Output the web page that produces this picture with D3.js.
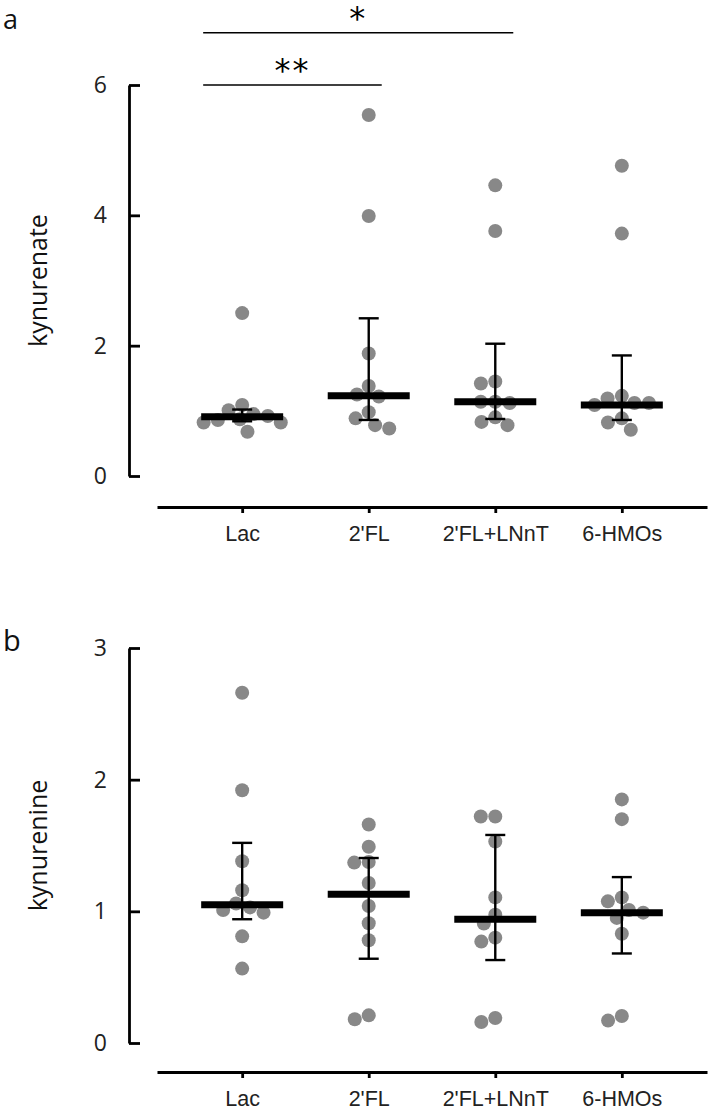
<!DOCTYPE html>
<html>
<head>
<meta charset="utf-8">
<script src="https://cdn.jsdelivr.net/npm/d3@7"></script>
<style>
html,body{margin:0;padding:0;background:#fff;}
svg{display:block;}
</style>
</head>
<body>
<svg id="chart" width="710" height="1115"></svg>
<script>
const categories = ["Lac", "2'FL", "2'FL+LNnT", "6-HMOs"];

// Panel a: kynurenate
const kynurenate = [
  [2.50, 1.09, 1.01, 0.95, 0.92, 0.87, 0.86, 0.82, 0.82, 0.68],
  [5.54, 3.99, 1.88, 1.38, 1.25, 1.22, 0.98, 0.885, 0.78, 0.73],
  [4.46, 3.76, 1.45, 1.42, 1.14, 1.14, 1.12, 0.90, 0.83, 0.78],
  [4.76, 3.72, 1.23, 1.19, 1.12, 1.12, 1.09, 0.885, 0.82, 0.71]
];
const kynurenateMedian = [0.91, 1.23, 1.14, 1.09];
const kynurenateLow = [0.84, 0.86, 0.875, 0.86];
const kynurenateHigh = [1.02, 2.42, 2.03, 1.85];
const kynurenateTicks = [0, 2, 4, 6];

// Panel b: kynurenine
const kynurenine = [
  [2.66, 1.92, 1.38, 1.16, 1.06, 1.03, 1.01, 0.99, 0.81, 0.565],
  [1.66, 1.49, 1.375, 1.37, 1.215, 1.04, 0.91, 0.78, 0.21, 0.18],
  [1.72, 1.72, 1.53, 1.106, 0.975, 0.907, 0.80, 0.77, 0.19, 0.16],
  [1.85, 1.70, 1.106, 1.076, 1.01, 0.99, 0.95, 0.83, 0.205, 0.17]
];
const kynurenineMedian = [1.05, 1.13, 0.94, 0.99];
const kynurenineLow = [0.94, 0.64, 0.63, 0.68];
const kynurenineHigh = [1.52, 1.405, 1.58, 1.26];
const kynurenineTicks = [0, 1, 2, 3];

const svg = d3.select("#chart");
const DOT_R = 7, MIN_D = 14.5;

function swarm(vals, cx, y) {
  const placed = [];
  const order = vals.map((v, i) => ({v, i})).sort((a, b) => b.v - a.v);
  order.forEach(p => {
    const py = y(p.v);
    const forb = [];
    placed.forEach(q => {
      const dy = Math.abs(q.y - py);
      if (dy < MIN_D) {
        const dx = Math.sqrt(MIN_D * MIN_D - dy * dy);
        forb.push([q.x - dx, q.x + dx]);
      }
    });
    const cands = [cx];
    forb.forEach(f => { cands.push(f[0] - 0.01, f[1] + 0.01); });
    cands.sort((a, b) => Math.abs(a - cx) - Math.abs(b - cx));
    let px = cx;
    for (const c of cands) {
      if (!forb.some(f => c > f[0] && c < f[1])) { px = c; break; }
    }
    placed.push({x: px, y: py, v: p.v});
  });
  return placed;
}

function panel(opt) {
  const g = svg.append("g");
  const x = d3.scalePoint().domain(categories).range([157, 707]).padding(0.673);
  const y = d3.scaleLinear().domain(opt.domain).range(opt.yRange);

  // y axis
  const axisX = 129;
  const minor = d3.range(opt.domain[0], opt.domain[1] + 1e-9, opt.minorStep)
    .filter(v => !opt.ticks.some(t => Math.abs(t - v) < 1e-6));
  const ya = g.append("g").attr("transform", `translate(${axisX},0)`);
  ya.call(d3.axisLeft(y).tickValues(minor).tickSize(-5).tickSizeOuter(0).tickFormat(""));
  ya.call(d3.axisLeft(y).tickValues(opt.ticks).tickSize(-11).tickSizeOuter(0).tickPadding(22).tickFormat(d3.format("d")));
  ya.selectAll("path.domain").attr("stroke", "#000").attr("stroke-width", 2.8);
  ya.selectAll(".tick line").attr("stroke", "#000").attr("stroke-width", 2.8);
  ya.selectAll(".tick text").attr("font-family", "'Open Sans', sans-serif").attr("font-size", 23).attr("fill", "#222");

  // x axis
  const xa = g.append("g").attr("transform", `translate(0,${opt.xAxisY})`);
  xa.call(d3.axisBottom(x).tickSize(6).tickSizeOuter(0).tickPadding(13));
  xa.selectAll("path.domain").attr("stroke", "#000").attr("stroke-width", 2.8);
  xa.selectAll(".tick line").attr("stroke", "#000").attr("stroke-width", 2.8);
  xa.selectAll(".tick text").attr("font-family", "'Liberation Sans', Arial, sans-serif").attr("font-size", 21.5).attr("fill", "#222");

  // axis title
  g.append("text")
    .attr("transform", `translate(40,${(opt.yRange[0] + opt.yRange[1]) / 2}) rotate(-90)`)
    .attr("text-anchor", "middle").attr("dominant-baseline", "middle")
    .attr("font-family", "'Open Sans', sans-serif").attr("font-size", 25).attr("fill", "#111")
    .text(opt.title);

  // panel letter
  g.append("text").attr("x", 3).attr("y", opt.letterY)
    .attr("font-family", "'Open Sans', sans-serif").attr("font-size", opt.letterSize).attr("fill", "#111")
    .text(opt.letter);

  // dots
  categories.forEach((c, ci) => {
    const pts = swarm(opt.data[ci], x(c), y);
    g.append("g").selectAll("circle").data(pts).join("circle")
      .attr("cx", d => d.x).attr("cy", d => d.y).attr("r", DOT_R)
      .attr("fill", "#888888");
  });

  // error bars
  categories.forEach((c, ci) => {
    const cx = x(c);
    const eg = g.append("g").attr("stroke", "#000").attr("stroke-width", 2.4);
    eg.append("line").attr("x1", cx).attr("x2", cx).attr("y1", y(opt.low[ci])).attr("y2", y(opt.high[ci]));
    eg.append("line").attr("x1", cx - 10).attr("x2", cx + 10).attr("y1", y(opt.high[ci])).attr("y2", y(opt.high[ci]));
    eg.append("line").attr("x1", cx - 10).attr("x2", cx + 10).attr("y1", y(opt.low[ci])).attr("y2", y(opt.low[ci]));
    g.append("line").attr("x1", cx - 41).attr("x2", cx + 41)
      .attr("y1", y(opt.median[ci])).attr("y2", y(opt.median[ci]))
      .attr("stroke", "#000").attr("stroke-width", 7);
  });
  return {x, y, g};
}

const A = panel({
  data: kynurenate, median: kynurenateMedian, low: kynurenateLow, high: kynurenateHigh,
  ticks: kynurenateTicks, domain: [0, 6], minorStep: 0.4, yRange: [476, 85],
  xAxisY: 507, title: "kynurenate", letter: "a", letterY: 29, letterSize: 27
});
const B = panel({
  data: kynurenine, median: kynurenineMedian, low: kynurenineLow, high: kynurenineHigh,
  ticks: kynurenineTicks, domain: [0, 3], minorStep: 0.2, yRange: [1043, 648],
  xAxisY: 1072, title: "kynurenine", letter: "b", letterY: 651, letterSize: 29
});

// significance brackets (panel a)
const sig = [
  {from: "Lac", to: "2'FL", yv: 6.0, label: "**", dx0: -39, dx1: 13},
  {from: "Lac", to: "2'FL+LNnT", yv: 6.8, label: "*", dx0: -39, dx1: 18}
];
sig.forEach(s => {
  const x0 = A.x(s.from) + s.dx0, x1 = A.x(s.to) + s.dx1;
  const yy = A.y(s.yv);
  svg.append("line").attr("x1", x0).attr("x2", x1).attr("y1", yy).attr("y2", yy)
    .attr("stroke", "#000").attr("stroke-width", 1.5);
  svg.append("text").attr("x", (x0 + x1) / 2).attr("y", yy - 4)
    .attr("text-anchor", "middle")
    .attr("font-family", "'DejaVu Sans', sans-serif").attr("font-size", 32).attr("fill", "#000")
    .attr("letter-spacing", 2)
    .text(s.label);
});
</script>
</body>
</html>
